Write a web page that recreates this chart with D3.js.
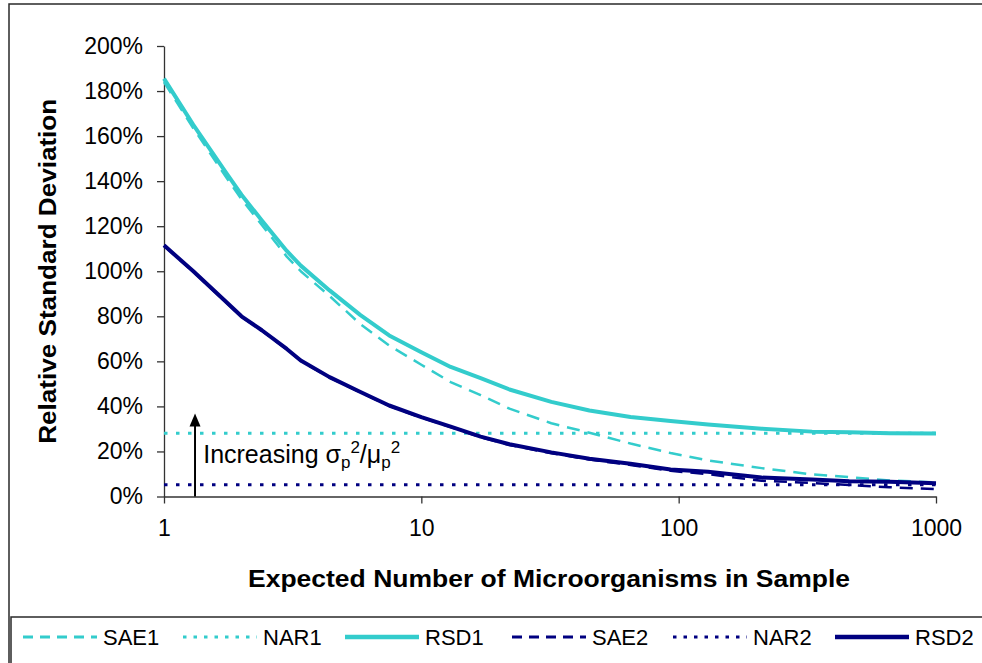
<!DOCTYPE html>
<html>
<head>
<meta charset="utf-8">
<script src="https://cdn.jsdelivr.net/npm/d3@7"></script>
<style>
  html, body { margin: 0; padding: 0; background: #fff; }
  svg { display: block; font-family: "Liberation Sans", Arial, sans-serif; }
</style>
</head>
<body>
<script>
// Expected number of microorganisms in the sample (x values shared by all curves)
const expected = [1, 1.3, 1.75, 2, 2.4, 3, 3.4, 4.4, 5.8, 7.5, 10, 13, 17, 22, 32, 45, 65, 93, 130, 210, 330, 460, 660, 1000];

// Relative standard deviation, in percent
const sae1 = [184, 163.5, 141.5, 132, 120.5, 106.5, 100, 89, 76.5, 67, 58.5, 50.8, 45, 39, 32.5, 28.3, 23.5, 19.3, 16, 12.6, 9.8, 8.6, 7.1, 6.3];
const rsd1 = [185.5, 165, 143.5, 134, 122.5, 109, 102.5, 91.5, 80.5, 71.5, 64, 57.5, 52.5, 47.5, 42, 38.2, 35.3, 33.5, 32, 30.1, 28.8, 28.5, 28.1, 28.0];
const sae2 = [111.3, 99.8, 86, 79.8, 73.6, 65.3, 60.2, 52.8, 46.2, 40.2, 35, 30.8, 26.3, 22.9, 19.2, 16.4, 14, 11.4, 9.9, 7.0, 6.0, 5.1, 4.1, 3.3];
const rsd2 = [111.5, 100, 86.2, 80, 73.8, 65.5, 60.4, 53, 46.4, 40.4, 35.2, 31, 26.6, 23.2, 19.6, 16.8, 14.5, 12, 11, 8.4, 7.5, 6.8, 6.6, 5.9];

// Constant NAR levels
const nar1 = 28.1;
const nar2 = 5.2;

// Axis ticks
const xTicks = [1, 10, 100, 1000];
const yTicks = [0, 20, 40, 60, 80, 100, 120, 140, 160, 180, 200];

// Legend order
const seriesNames = ["SAE1", "NAR1", "RSD1", "SAE2", "NAR2", "RSD2"];

const W = 982, H = 663;
const cyan = "#33CCCC", navy = "#000080";

const styles = {
  SAE1: { color: cyan, width: 2.5, dash: "13,8", legendDash: "10,7" },
  NAR1: { color: cyan, width: 3, dash: "3.5,8.5", legendDash: "3.5,7" },
  RSD1: { color: cyan, width: 4, dash: null, legendDash: null },
  SAE2: { color: navy, width: 2.5, dash: "13,8", legendDash: "10,7" },
  NAR2: { color: navy, width: 3, dash: "3.5,8.5", legendDash: "3.5,7" },
  RSD2: { color: navy, width: 4, dash: null, legendDash: null }
};

const svg = d3.select("body").append("svg")
  .attr("width", W).attr("height", H);

svg.append("rect").attr("width", W).attr("height", H).attr("fill", "#fff");

// outer frame
svg.append("rect")
  .attr("x", 9).attr("y", 4).attr("width", W + 20).attr("height", H + 20)
  .attr("fill", "none").attr("stroke", "#2a2a2a").attr("stroke-width", 1.5);

const x = d3.scaleLog().domain([1, 1000]).range([164, 936]);
const y = d3.scaleLinear().domain([0, 200]).range([496.5, 46]);

// axes
const yAxis = d3.axisLeft(y).tickValues(yTicks).tickFormat(d => d + "%")
  .tickSize(7).tickSizeOuter(0).tickPadding(14);
const xAxis = d3.axisBottom(x).tickValues(xTicks).tickFormat(d3.format("d"))
  .tickSize(7).tickSizeOuter(0).tickPadding(16);

const gy = svg.append("g").attr("transform", `translate(${x(1)},0)`).call(yAxis);
const gx = svg.append("g").attr("transform", `translate(0,${y(0)})`).call(xAxis);
[gx, gy].forEach(g => {
  g.selectAll("path, line").attr("stroke", "#333").attr("stroke-width", 1.3);
  g.selectAll("text").attr("font-size", 23).attr("fill", "#000")
    .attr("font-family", "'Liberation Sans', Arial, sans-serif");
});

// axis titles
svg.append("text")
  .attr("transform", `translate(56,${(y(0) + y(200)) / 2}) rotate(-90)`)
  .attr("text-anchor", "middle").attr("font-weight", "bold").attr("font-size", 24)
  .attr("textLength", 345).attr("lengthAdjust", "spacingAndGlyphs")
  .text("Relative Standard Deviation");

svg.append("text")
  .attr("x", 549).attr("y", 587)
  .attr("text-anchor", "middle").attr("font-weight", "bold").attr("font-size", 24)
  .attr("textLength", 602).attr("lengthAdjust", "spacingAndGlyphs")
  .text("Expected Number of Microorganisms in Sample");

// curves
const line = d3.line().x(d => x(d[0])).y(d => y(d[1]));
const plotG = svg.append("g");

function drawFlat(name, v) {
  const s = styles[name];
  plotG.append("line")
    .attr("x1", x(1)).attr("x2", x(1000)).attr("y1", y(v)).attr("y2", y(v))
    .attr("stroke", s.color).attr("stroke-width", s.width)
    .attr("stroke-dasharray", s.dash);
}
function drawCurve(name, vals) {
  const s = styles[name];
  plotG.append("path")
    .datum(expected.map((e, i) => [e, vals[i]]))
    .attr("d", line).attr("fill", "none")
    .attr("stroke", s.color).attr("stroke-width", s.width)
    .attr("stroke-linejoin", "round")
    .attr("stroke-dasharray", s.dash);
}
drawFlat("NAR1", nar1);
drawFlat("NAR2", nar2);
drawCurve("RSD1", rsd1);
drawCurve("SAE1", sae1);
drawCurve("RSD2", rsd2);
drawCurve("SAE2", sae2);

// annotation arrow
const ax = x(1.32);
const tipY = y(36.8);
svg.append("line")
  .attr("x1", ax).attr("x2", ax).attr("y1", y(0)).attr("y2", tipY + 10)
  .attr("stroke", "#000").attr("stroke-width", 2);
svg.append("path")
  .attr("d", `M${ax},${tipY} L${ax - 5.5},${tipY + 13} L${ax + 5.5},${tipY + 13} Z`)
  .attr("fill", "#000");

const note = svg.append("text")
  .attr("x", x(1.42)).attr("y", y(14.8)).attr("font-size", 25).attr("fill", "#000");
note.append("tspan").text("Increasing ");
note.append("tspan").text("σ");
note.append("tspan").attr("font-size", 17).attr("dy", 5).text("p");
note.append("tspan").attr("font-size", 17).attr("dy", -15).text("2");
note.append("tspan").attr("dy", 10).text("/");
note.append("tspan").text("μ");
note.append("tspan").attr("font-size", 17).attr("dy", 5).text("p");
note.append("tspan").attr("font-size", 17).attr("dy", -15).text("2");

// legend
svg.append("rect")
  .attr("x", 11).attr("y", 617).attr("width", W + 20).attr("height", 100)
  .attr("fill", "#fff").attr("stroke", "#2a2a2a").attr("stroke-width", 1.5);

const legendStarts = [23, 183, 345, 512, 673, 835];
const legend = svg.append("g");
seriesNames.forEach((name, i) => {
  const s = styles[name];
  const lx = legendStarts[i];
  legend.append("line")
    .attr("x1", lx).attr("x2", lx + 74).attr("y1", 637).attr("y2", 637)
    .attr("stroke", s.color).attr("stroke-width", s.dash ? 3 : 4.5)
    .attr("stroke-dasharray", s.legendDash);
  legend.append("text")
    .attr("x", lx + 80).attr("y", 645).attr("font-size", 22).attr("fill", "#000")
    .text(name);
});
</script>
</body>
</html>
